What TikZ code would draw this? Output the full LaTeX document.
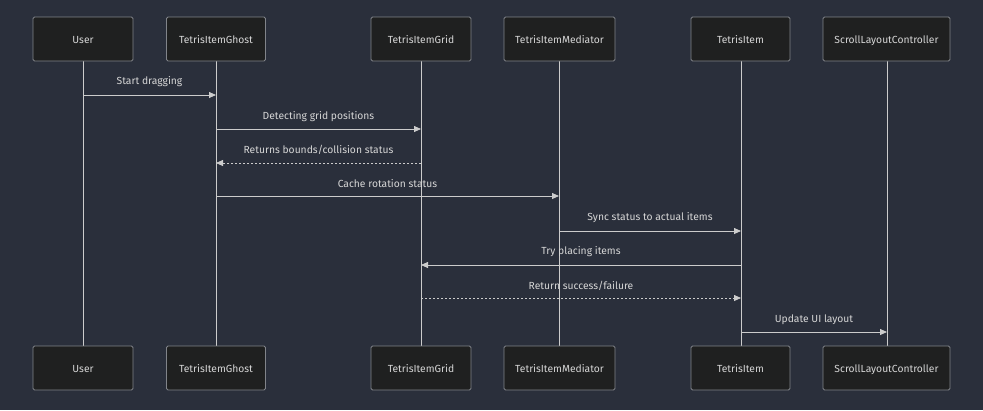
\documentclass[tikz,border=0pt]{standalone}
\usepackage{fontspec}
\setmainfont{Fira Sans}
\usetikzlibrary{arrows.meta}
\definecolor{bg}{HTML}{2A2F3B}
\definecolor{boxfill}{HTML}{1F2020}
\definecolor{boxline}{HTML}{81848A}
\definecolor{ln}{HTML}{CCCCCC}
\definecolor{txt}{HTML}{D6D6D6}
\tikzset{
  actor/.style={draw=boxline, fill=boxfill, rounded corners=1.5pt, line width=0.8pt,
    minimum height=44pt, text=txt, font=\fontsize{10.3}{12}\selectfont, inner sep=0pt,
    text height=9.5pt, text depth=0.5pt},
  life/.style={draw=ln, line width=0.8pt},
  msg/.style={draw=ln, line width=0.8pt, -{Triangle[length=7pt,width=6pt]}},
  reply/.style={msg, dash pattern=on 2pt off 2pt},
  lbl/.style={text=txt, font=\fontsize{10.3}{12}\selectfont, inner sep=0pt,
    text height=9.5pt, text depth=0.5pt}
}
\begin{document}
\begin{tikzpicture}[x=1pt,y=-1pt]
\fill[bg] (0,0) rectangle (983,410);
\useasboundingbox (0,0) rectangle (983,410);
% lifelines
\foreach \n/\x in {user/83,ghost/216,grid/421,med/559,item/741,scroll/887}{
  \coordinate (\n T) at (\x,61);
  \coordinate (\n B) at (\x,346);
  \draw[life] (\n T) -- (\n B);
}
% top actors
\node[actor, minimum width=100pt] (userTop) at (83,39) {User};
\node[actor, minimum width=99pt] (ghostTop) at (216,39) {TetrisItemGhost};
\node[actor, minimum width=100pt] (gridTop) at (421,39) {TetrisItemGrid};
\node[actor, minimum width=111pt] (medTop) at (559.5,39) {TetrisItemMediator};
\node[actor, minimum width=99pt] (itemTop) at (740.5,39) {TetrisItem};
\node[actor, minimum width=127pt] (scrollTop) at (886.5,39) {ScrollLayoutController};
% bottom actors
\node[actor, minimum width=100pt] (userBot) at (83,368) {User};
\node[actor, minimum width=99pt] (ghostBot) at (216,368) {TetrisItemGhost};
\node[actor, minimum width=100pt] (gridBot) at (421,368) {TetrisItemGrid};
\node[actor, minimum width=111pt] (medBot) at (559.5,368) {TetrisItemMediator};
\node[actor, minimum width=99pt] (itemBot) at (740.5,368) {TetrisItem};
\node[actor, minimum width=127pt] (scrollBot) at (886.5,368) {ScrollLayoutController};
% message points
\coordinate (m1a) at (83,95);   \coordinate (m1b) at (216,95);
\coordinate (m2a) at (216,129); \coordinate (m2b) at (421,129);
\coordinate (m3a) at (421,163); \coordinate (m3b) at (216,163);
\coordinate (m4a) at (216,196); \coordinate (m4b) at (559,196);
\coordinate (m5a) at (559,231); \coordinate (m5b) at (741,231);
\coordinate (m6a) at (741,265); \coordinate (m6b) at (421,265);
\coordinate (m7a) at (421,298); \coordinate (m7b) at (741,298);
\coordinate (m8a) at (741,332); \coordinate (m8b) at (887,332);
\draw[msg] (m1a) -- (m1b);
\draw[msg] (m2a) -- (m2b);
\draw[reply] (m3a) -- (m3b);
\draw[msg] (m4a) -- (m4b);
\draw[msg] (m5a) -- (m5b);
\draw[msg] (m6a) -- (m6b);
\draw[reply] (m7a) -- (m7b);
\draw[msg] (m8a) -- (m8b);
\node[lbl] (l1) at (149.5,80) {Start dragging};
\node[lbl] (l2) at (318.5,115) {Detecting grid positions};
\node[lbl] (l3) at (318.5,149) {Returns bounds/collision status};
\node[lbl] (l4) at (387.5,183) {Cache rotation status};
\node[lbl] (l5) at (650,216) {Sync status to actual items};
\node[lbl] (l6) at (581,250) {Try placing items};
\node[lbl] (l7) at (581,285) {Return success/failure};
\node[lbl] (l8) at (814,318) {Update UI layout};
\end{tikzpicture}
\end{document}
